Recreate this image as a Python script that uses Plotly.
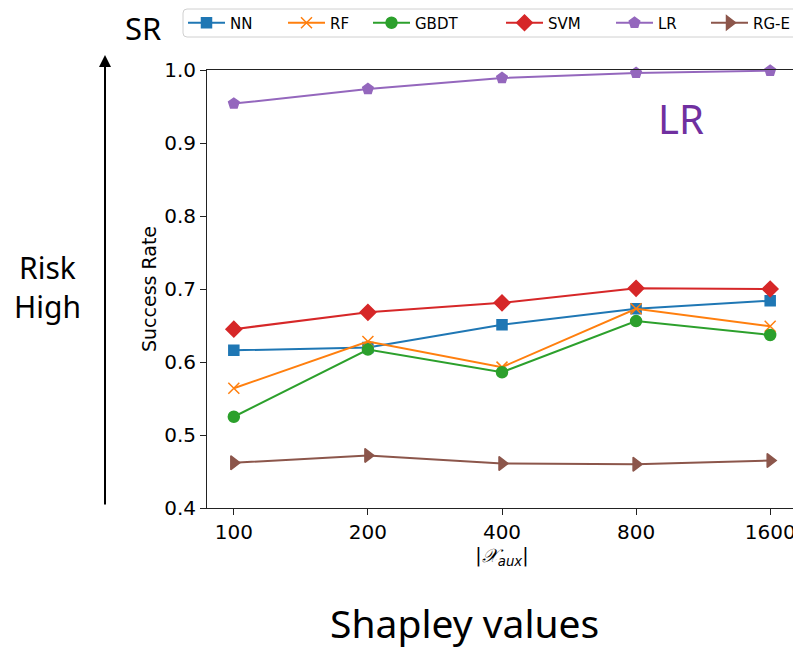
import plotly.graph_objects as go

categories = ["100", "200", "400", "800", "1600"]
series_names = ["NN", "RF", "GBDT", "SVM", "LR", "RG-E"]
nn = [0.616, 0.620, 0.651, 0.673, 0.684]
rf = [0.564, 0.628, 0.593, 0.673, 0.649]
gbdt = [0.525, 0.617, 0.586, 0.656, 0.637]
svm = [0.645, 0.668, 0.681, 0.701, 0.700]
lr = [0.954, 0.974, 0.989, 0.996, 0.999]
rge = [0.462, 0.472, 0.461, 0.460, 0.465]
y_ticks = [0.4, 0.5, 0.6, 0.7, 0.8, 0.9, 1.0]

values = [nn, rf, gbdt, svm, lr, rge]
colors = ["#1f77b4", "#ff7f0e", "#2ca02c", "#d62728", "#9467bd", "#8c564b"]
symbols = ["square", "x-thin-open", "circle", "diamond", "pentagon", "triangle-right"]
sizes = [10, 11, 11, 12, 11, 12]

# page layout (window pixels; the page body adds an 8px offset)
OFF = 8
W, H = 801 - OFF, 648 - OFF
PL, PR, PT, PB = 207, 797, 70, 508   # plot frame in window pixels


def px(xw):
    return (xw - PL) / (PR - PL)


def py(yw):
    return (PB - yw) / (PB - PT)


legend_starts = [189, 289, 374, 507, 617, 712]

fig = go.Figure()
layout_legends = {}
for i, (name, vals, c, s, sz) in enumerate(zip(series_names, values, colors, symbols, sizes)):
    key = "legend" if i == 0 else f"legend{i + 1}"
    fig.add_trace(go.Scatter(
        x=categories, y=vals, name=name, mode="lines+markers",
        line=dict(color=c, width=2),
        marker=dict(symbol=s, size=sz, color=c, line=dict(color=c, width=1.5)),
        cliponaxis=False, legend=key,
    ))
    layout_legends[key] = dict(
        orientation="h", x=px(legend_starts[i] - 6), xanchor="left",
        y=py(23), yanchor="middle",
        font=dict(family="DejaVu Sans", size=15, color="black"),
        bgcolor="rgba(0,0,0,0)", borderwidth=0, itemwidth=37,
    )

axis_font = dict(family="DejaVu Sans", size=20, color="black")
fig.update_layout(
    width=W, height=H,
    margin=dict(l=PL - OFF, r=W - (PR - OFF), t=PT - OFF, b=H - (PB - OFF), autoexpand=False),
    paper_bgcolor="white", plot_bgcolor="white",
    font=dict(family="DejaVu Sans", color="black"),
    showlegend=True,
    xaxis=dict(type="category", range=[-0.2, 4.2], showline=True, linecolor="#222222",
               linewidth=1, mirror=True, ticks="outside", ticklen=6, tickcolor="#222222",
               tickfont=axis_font, showgrid=False, zeroline=False,
               title=dict(text="|<i>𝒳</i><sub><i>aux</i></sub>|",
                          font=dict(family="DejaVu Sans", size=19), standoff=2)),
    yaxis=dict(range=[0.4, 1.0], tickvals=y_ticks, ticktext=[f"{v:.1f}" for v in y_ticks],
               showline=True, linecolor="#222222", linewidth=1, mirror=True,
               ticks="outside", ticklen=6, tickcolor="#222222", tickfont=axis_font,
               showgrid=False, zeroline=False,
               title=dict(text="Success Rate", font=dict(family="DejaVu Sans", size=19), standoff=2)),
    **layout_legends,
)

# legend frame (rounded rectangle)
x0, x1, y0, y1 = px(183), px(800), py(37), py(9)
rx, ry = 4 / (PR - PL), 4 / (PB - PT)
path = (f"M {x0 + rx} {y1} L {x1 - rx} {y1} Q {x1} {y1} {x1} {y1 - ry} "
        f"L {x1} {y0 + ry} Q {x1} {y0} {x1 - rx} {y0} L {x0 + rx} {y0} "
        f"Q {x0} {y0} {x0} {y0 + ry} L {x0} {y1 - ry} Q {x0} {y1} {x0 + rx} {y1} Z")
fig.add_shape(type="path", path=path, xref="paper", yref="paper",
              line=dict(color="#d0d0d0", width=1), fillcolor="rgba(255,255,255,0.8)", layer="below")


def label(xw, yw, text, size, color="black"):
    fig.add_annotation(x=px(xw), y=py(yw), xref="paper", yref="paper", text=text,
                       showarrow=False, xanchor="center", yanchor="middle", borderpad=0,
                       font=dict(family="Noto Sans", size=size, color=color))


label(681, 119, "LR", 40, "#7030A0")
label(143, 28, "SR", 31)
label(47, 287, "Risk<br>High", 30)
label(464, 622, "Shapley values", 39)
fig.add_annotation(x=px(105), y=py(55), ax=px(105), ay=py(506), xref="x domain", yref="y domain",
                   axref="x domain", ayref="y domain", text="", showarrow=True,
                   arrowhead=2, arrowsize=1.2, arrowwidth=2, arrowcolor="black")

fig.write_html("out.html")
